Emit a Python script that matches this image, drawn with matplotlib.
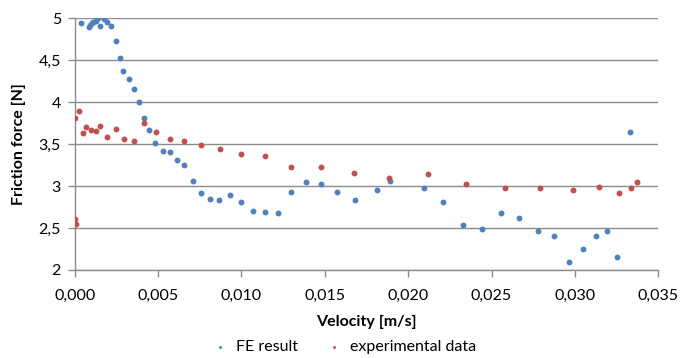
import matplotlib
matplotlib.use('Agg')
from matplotlib import pyplot as plt
from matplotlib.ticker import FuncFormatter, MultipleLocator

# FE result (velocity in m/s, friction force in N)
fe_vel = [0.00036, 0.00084, 0.00092, 0.00102, 0.00112, 0.00126, 0.00141, 0.00153,
          0.00175, 0.00193, 0.00217, 0.00247, 0.00269, 0.00291, 0.00327, 0.00355,
          0.00385, 0.00415, 0.00447, 0.00483, 0.00529, 0.00571, 0.00614, 0.00656,
          0.00707, 0.00760, 0.00812, 0.00866, 0.00934, 0.00996, 0.01072, 0.01141,
          0.01217, 0.01297, 0.01389, 0.01475, 0.01575, 0.01678, 0.01810, 0.01892,
          0.02093, 0.02210, 0.02327, 0.02441, 0.02557, 0.02667, 0.02776, 0.02874,
          0.02966, 0.03048, 0.03128, 0.03193, 0.03255, 0.03331]
fe_force = [4.94, 4.89, 4.92, 4.94, 4.95, 4.97, 5.00, 4.91,
            4.99, 4.96, 4.91, 4.73, 4.53, 4.37, 4.27, 4.16,
            4.00, 3.81, 3.67, 3.51, 3.42, 3.40, 3.31, 3.25,
            3.06, 2.92, 2.85, 2.83, 2.89, 2.81, 2.70, 2.69,
            2.68, 2.93, 3.05, 3.02, 2.93, 2.83, 2.95, 3.06,
            2.98, 2.81, 2.53, 2.49, 2.68, 2.62, 2.46, 2.41,
            2.10, 2.25, 2.41, 2.47, 2.16, 3.64]

# experimental data
exp_vel = [0.00002, 0.00004, 0.00006, 0.00026, 0.00048, 0.00068, 0.00096, 0.00126,
           0.00153, 0.00193, 0.00247, 0.00293, 0.00355, 0.00413, 0.00485, 0.00569,
           0.00654, 0.00760, 0.00870, 0.00996, 0.01141, 0.01297, 0.01475, 0.01672,
           0.01886, 0.02117, 0.02349, 0.02581, 0.02792, 0.02990, 0.03146, 0.03267,
           0.03337, 0.03371]
exp_force = [3.81, 2.61, 2.55, 3.89, 3.63, 3.70, 3.67, 3.66,
             3.71, 3.58, 3.68, 3.56, 3.54, 3.75, 3.64, 3.56,
             3.54, 3.49, 3.44, 3.38, 3.36, 3.23, 3.23, 3.16,
             3.09, 3.14, 3.03, 2.98, 2.98, 2.95, 2.99, 2.92,
             2.98, 3.05]

plt.rcParams['font.family'] = ['Lato', 'DejaVu Sans']
grey = '#8c8c8c'

fig = plt.figure(figsize=(6.8, 3.58), dpi=100)
ax = fig.add_axes([0.110, 0.246, 0.858, 0.703])

ax.scatter(fe_vel, fe_force, s=18, color='#4F81BD', label='FE result', zorder=3, linewidths=0)
ax.scatter(exp_vel, exp_force, s=18, color='#C0504D', label='experimental data', zorder=3, linewidths=0)

ax.set_xlim(0, 0.035)
ax.set_ylim(2, 5)
ax.xaxis.set_major_locator(MultipleLocator(0.005))
ax.yaxis.set_major_locator(MultipleLocator(0.5))
ax.xaxis.set_major_formatter(FuncFormatter(lambda v, p: f'{v:.3f}'.replace('.', ',')))
ax.yaxis.set_major_formatter(FuncFormatter(lambda v, p: f'{v:g}'.replace('.', ',')))

ax.grid(axis='y', color=grey, linewidth=1)
ax.set_axisbelow(True)
for side in ['top', 'right']:
    ax.spines[side].set_visible(False)
for side in ['left', 'bottom']:
    ax.spines[side].set_color(grey)
    ax.spines[side].set_linewidth(1)
ax.tick_params(colors=grey, labelcolor='black', labelsize=11.5, length=5, width=1)
ax.tick_params(axis='x', pad=9)
ax.tick_params(axis='y', pad=5)

ax.set_xlabel('Velocity [m/s]', fontsize=11.5, fontweight='bold', labelpad=8)
ax.set_ylabel('Friction force [N]', fontsize=11.5, fontweight='bold', labelpad=9)

fig.legend(loc='lower center', bbox_to_anchor=(0.5, -0.03), ncol=2, frameon=False,
           fontsize=11.5, markerscale=0.5, handletextpad=0.0, columnspacing=1.3)

fig.savefig('out.png', dpi=100)
